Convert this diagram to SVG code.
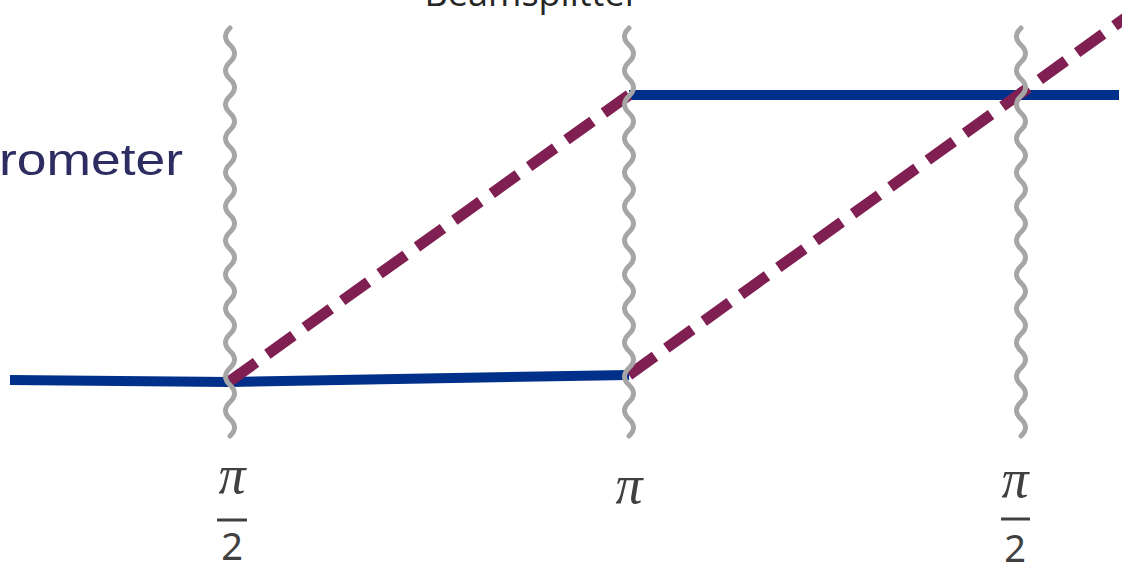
<svg xmlns="http://www.w3.org/2000/svg" width="1122" height="567" viewBox="0 0 1122 567">
  <style>
    .beam { fill: none; stroke: #00308a; stroke-width: 10; stroke-linejoin: round; }
    .dash { fill: none; stroke: #7f1f52; stroke-width: 11; stroke-dasharray: 32 14; }
    .wave { fill: none; stroke: #a6a6a6; stroke-width: 5; stroke-linecap: round; }
    .pi { font-family: "Liberation Serif", "DejaVu Serif", serif; font-style: italic; font-size: 54px; fill: #404040; text-anchor: middle; }
    .two { font-family: "Noto Sans", "DejaVu Sans", sans-serif; font-size: 38px; fill: #404040; text-anchor: middle; }
    .bar { stroke: #404040; stroke-width: 3; }
  </style>
  <defs>
    <path id="wavy" class="wave" d="M0,0 q-9,8.5 0,17 t0,17 t0,17 t0,17 t0,17 t0,17 t0,17 t0,17 t0,17 t0,17 t0,17 t0,17 t0,17 t0,17 t0,17 t0,17 t0,17 t0,17 t0,17 t0,17 t0,17 t0,17 t0,17 t0,17"/>
  </defs>
  <rect width="1122" height="567" fill="#ffffff"/>

  <g id="title">
    <text x="532" y="6" font-family="'Open Sans', 'Noto Sans', sans-serif" font-size="36" fill="#262626" text-anchor="middle">Beamsplitter</text>
  </g>
  <g id="label-interferometer">
    <text x="-1" y="175" font-family="'Liberation Sans', Arial, sans-serif" font-size="45" textLength="184" lengthAdjust="spacingAndGlyphs" fill="#2e2d62">rometer</text>
  </g>

  <g id="connectors">
    <polyline class="beam" points="10,380 230,382 629,375"/>
    <line class="beam" x1="629" y1="95" x2="1119" y2="95"/>
    <line class="dash" x1="230" y1="381" x2="629" y2="95"/>
    <line class="dash" x1="629" y1="375" x2="1135" y2="11"/>
  </g>

  <g id="splitter1">
    <use href="#wavy" x="230" y="28"/>
  </g>
  <g id="splitter2">
    <use href="#wavy" x="629" y="28"/>
  </g>
  <g id="splitter3">
    <use href="#wavy" x="1021" y="28"/>
  </g>

  <g id="label1">
    <text class="pi" x="232" y="493">π</text>
    <line class="bar" x1="217" y1="520" x2="247" y2="520"/>
    <text class="two" x="232" y="560">2</text>
  </g>
  <g id="label2">
    <text class="pi" x="629" y="503">π</text>
  </g>
  <g id="label3">
    <text class="pi" x="1015" y="497">π</text>
    <line class="bar" x1="1001" y1="519" x2="1030" y2="519"/>
    <text class="two" x="1015" y="562">2</text>
  </g>
</svg>
